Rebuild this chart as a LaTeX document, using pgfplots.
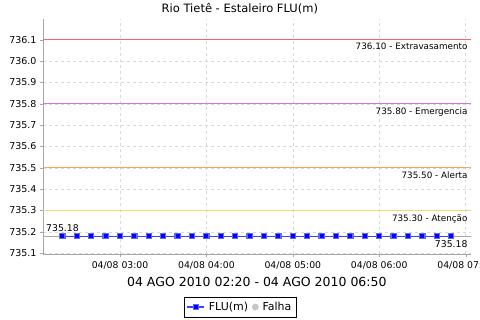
\documentclass[border=0pt]{standalone}
\usepackage{pgfplots}
\pgfplotsset{compat=1.18}
\usepackage{fontspec}
\setmainfont{DejaVu Sans}
\definecolor{extracol}{rgb}{0.95,0.40,0.42}
\definecolor{emercol}{rgb}{0.82,0.45,0.90}
\definecolor{alertcol}{rgb}{0.98,0.66,0.30}
\definecolor{atencol}{rgb}{0.95,0.85,0.42}
\definecolor{refcol}{rgb}{0.66,0.66,0.66}
\definecolor{gridcol}{rgb}{0.85,0.85,0.85}
\begin{document}
\begin{tikzpicture}[x=1pt,y=1pt]
\useasboundingbox (0,0) rectangle (480,320);
\begin{axis}[
  at={(43pt,65.5pt)}, anchor=south west,
  scale only axis, width=427.7pt, height=235.5pt,
  xmin=126.5, xmax=423.5, ymin=735.094, ymax=736.197,
  xtick={180,240,300,360,420},
  xticklabels={04/08 03:00,04/08 04:00,04/08 05:00,04/08 06:00,04/08 07:00},
  ytick={735.1,735.2,735.3,735.4,735.5,735.6,735.7,735.8,735.9,736.0,736.1},
  yticklabel style={/pgf/number format/.cd,fixed,fixed zerofill,precision=1,1000 sep={}},
  /pgf/number format/assume math mode=true,
  tick label style={font=\fontsize{9.5}{11}\selectfont},
  xticklabel style={font=\fontsize{9.3}{11}\selectfont, yshift=-1pt},
  axis line style={draw=gray!70},
  axis x line*=bottom, axis y line*=left,
  tick style={draw=gray!70}, tick align=outside,
  major tick length=3pt,
  grid=major, major grid style={gridcol, dashed, line width=0.5pt},
  title={Rio Tietê - Estaleiro FLU(m)},
  title style={font=\fontsize{11.5}{13}\selectfont, yshift=-5pt, xshift=-17pt},
  xlabel={04 AGO 2010 02:20 - 04 AGO 2010 06:50},
  xlabel style={font=\fontsize{12.5}{14}\selectfont, yshift=-1pt},
  clip=false,
  legend style={at={(0.4606,-0.223)}, anchor=center, draw=black, font=\fontsize{11}{13}\selectfont, inner sep=2.8pt, column sep=2pt},
  legend columns=2,
]
% threshold lines
\addplot[draw=extracol, line width=1.0pt, forget plot] coordinates {(126.5,736.10) (423.5,736.10)};
\addplot[draw=emercol, line width=1.0pt, forget plot] coordinates {(126.5,735.80) (423.5,735.80)};
\addplot[draw=alertcol, line width=1.0pt, forget plot] coordinates {(126.5,735.50) (423.5,735.50)};
\addplot[draw=atencol, line width=1.0pt, forget plot] coordinates {(126.5,735.30) (423.5,735.30)};
\addplot[draw=refcol, line width=1.0pt, forget plot] coordinates {(126.5,735.18) (423.5,735.18)};
% data
\addplot[color=blue!75, line width=1.2pt, mark=square*, mark size=2.6pt, mark options={fill=blue, draw=blue!60}] coordinates {
(140,735.18) (150,735.18) (160,735.18) (170,735.18) (180,735.18) (190,735.18) (200,735.18)
(210,735.18) (220,735.18) (230,735.18) (240,735.18) (250,735.18) (260,735.18) (270,735.18)
(280,735.18) (290,735.18) (300,735.18) (310,735.18) (320,735.18) (330,735.18) (340,735.18)
(350,735.18) (360,735.18) (370,735.18) (380,735.18) (390,735.18) (400,735.18) (410,735.18)
};
\addlegendentry{FLU(m)}
\addlegendimage{only marks, mark=*, mark size=3.2pt, color=gray!45}
\addlegendentry{Falha}
% labels
\begin{scope}[every node/.style={font=\fontsize{8.8}{10}\selectfont, inner sep=0pt}]
\node[anchor=north east] at (axis cs:423.5,736.10) [xshift=-3pt, yshift=-3.5pt] {736.10 - Extravasamento};
\node[anchor=north east] at (axis cs:423.5,735.80) [xshift=-3pt, yshift=-3.5pt] {735.80 - Emergencia};
\node[anchor=north east] at (axis cs:423.5,735.50) [xshift=-3pt, yshift=-3.5pt] {735.50 - Alerta};
\node[anchor=north east] at (axis cs:423.5,735.30) [xshift=-3pt, yshift=-3.5pt] {735.30 - Atenção};
\end{scope}
\node[anchor=south west, font=\fontsize{9.3}{11}\selectfont, inner sep=0pt] at (axis cs:126.5,735.18) [xshift=3pt, yshift=4pt] {735.18};
\node[anchor=north east, font=\fontsize{9.3}{11}\selectfont, inner sep=0pt] at (axis cs:423.5,735.18) [xshift=-3pt, yshift=-4pt] {735.18};
\end{axis}
\end{tikzpicture}
\end{document}
